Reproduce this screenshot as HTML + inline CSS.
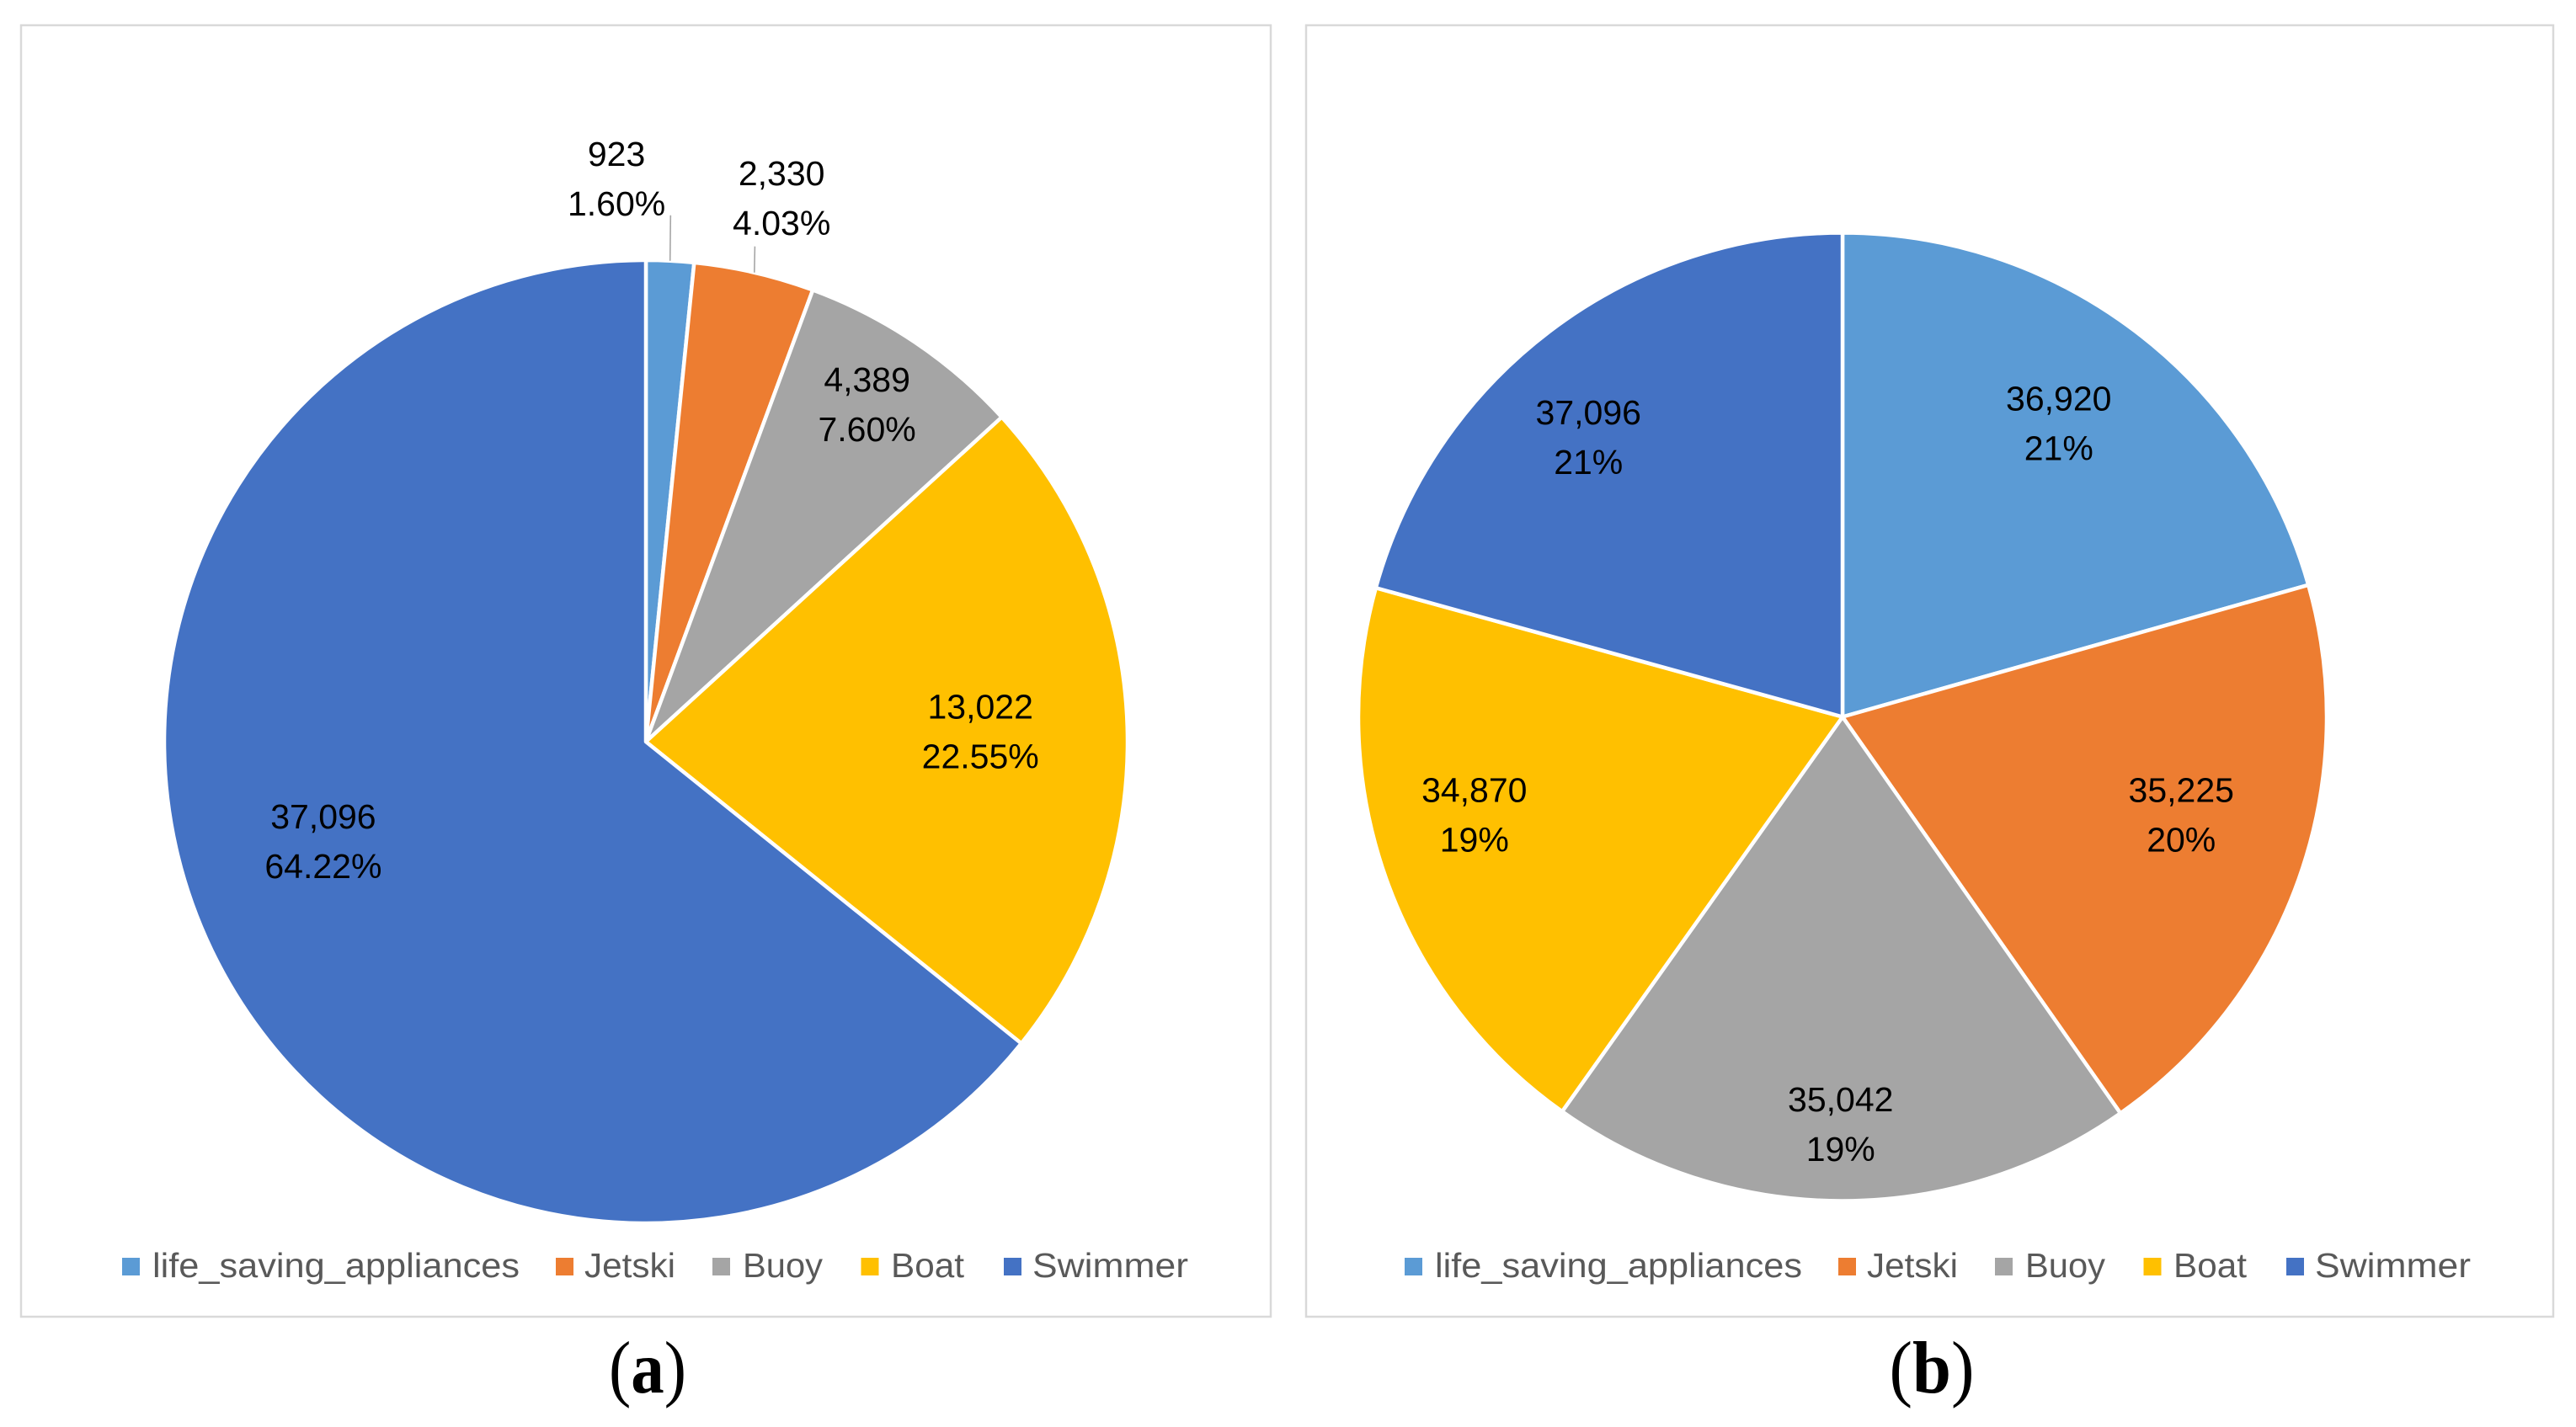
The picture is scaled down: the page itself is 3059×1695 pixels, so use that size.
<!DOCTYPE html>
<html lang="en">
<head>
<meta charset="utf-8">
<title>Class distribution pie charts</title>
<style>
html,body{margin:0;padding:0;background:#fff;}
svg{display:block;}
text{font-family:"Liberation Sans",sans-serif;}
.caption{font-family:"Liberation Serif",serif;font-size:88px;fill:#000;}
</style>
</head>
<body>
<svg id="figure" xmlns="http://www.w3.org/2000/svg" width="3059" height="1695" viewBox="0 0 3059 1695">
  <rect width="3059" height="1695" fill="#fff"/>
  <rect x="25" y="30" width="1484" height="1534" fill="#fff" stroke="#d9d9d9" stroke-width="2.5"/>
  <rect x="1551" y="30" width="1486" height="1534" fill="#fff" stroke="#d9d9d9" stroke-width="2.5" style="width:1481px"/>
  <g id="chart-a"></g>
  <g id="chart-b"></g>
  <text class="caption" x="769" y="1654" text-anchor="middle" textLength="92" lengthAdjust="spacingAndGlyphs">(<tspan font-weight="bold">a</tspan>)</text>
  <text class="caption" x="2294" y="1654" text-anchor="middle" textLength="101" lengthAdjust="spacingAndGlyphs">(<tspan font-weight="bold">b</tspan>)</text>
</svg>
<script>
const categories = ['life_saving_appliances', 'Jetski', 'Buoy', 'Boat', 'Swimmer'];
const valuesA = [923, 2330, 4389, 13022, 37096];
const valuesB = [36920, 35225, 35042, 34870, 37096];
const printedValuesA = ['923', '2,330', '4,389', '13,022', '37,096'];
const printedValuesB = ['36,920', '35,225', '35,042', '34,870', '37,096'];
const printedPercentsA = ['1.60%', '4.03%', '7.60%', '22.55%', '64.22%'];
const printedPercentsB = ['21%', '20%', '19%', '19%', '21%'];

const colors = ['#5B9BD5', '#ED7D31', '#A5A5A5', '#FFC000', '#4472C4'];
const NS = 'http://www.w3.org/2000/svg';

function el(tag, parent) {
  const node = document.createElementNS(NS, tag);
  parent.appendChild(node);
  return node;
}

function angleScale(values) {
  const total = values.reduce(function (a, b) { return a + b; }, 0);
  return function (v) { return v / total * Math.PI * 2; };
}

function polar(cx, cy, r, a) {
  return [cx + r * Math.sin(a), cy - r * Math.cos(a)];
}

function drawPie(opts) {
  const root = document.getElementById(opts.id);
  const toAngle = angleScale(opts.values);
  const cx = opts.cx, cy = opts.cy, R = opts.r;
  let start = 0;
  opts.values.forEach(function (v, i) {
    const sweep = toAngle(v);
    const end = start + sweep;
    const mid = start + sweep / 2;
    const p0 = polar(cx, cy, R, start);
    const p1 = polar(cx, cy, R, end);
    const large = sweep > Math.PI ? 1 : 0;

    const slice = el('path', root);
    
    
    slice.setAttribute('d', 'M' + cx + ' ' + cy + ' L' + p0[0] + ' ' + p0[1] + ' A' + R + ' ' + R + ' 0 ' + large + ' 1 ' + p1[0] + ' ' + p1[1] + ' Z');
    slice.setAttribute('fill', colors[i]);
    slice.setAttribute('stroke', '#fff');
    slice.setAttribute('stroke-width', '4.5');
    slice.setAttribute('stroke-linejoin', 'round');

    const anchor = polar(cx, cy, R * 0.7, mid);
    const nudge = opts.labelNudges[i];
    const lx = anchor[0] + nudge[0];
    const ly = anchor[1] + nudge[1];

    if (opts.leaderLengths[i] > 0) {
      const tip = polar(cx, cy, R, mid);
      const leader = el('line', root);
      
      
      leader.setAttribute('x1', tip[0]);
      leader.setAttribute('y1', tip[1]);
      leader.setAttribute('x2', tip[0] + 0.6);
      leader.setAttribute('y2', tip[1] - opts.leaderLengths[i]);
      leader.setAttribute('stroke', '#a6a6a6');
      leader.setAttribute('stroke-width', '1.6');
    }

    const valueLabel = el('text', root);
    
    
    valueLabel.setAttribute('x', lx);
    valueLabel.setAttribute('y', ly);
    valueLabel.setAttribute('text-anchor', 'middle');
    valueLabel.setAttribute('font-size', '41');
    valueLabel.setAttribute('fill', '#000');
    valueLabel.textContent = opts.printedValues[i];

    const percentLabel = el('text', root);
    
    
    percentLabel.setAttribute('x', lx);
    percentLabel.setAttribute('y', ly + 59);
    percentLabel.setAttribute('text-anchor', 'middle');
    percentLabel.setAttribute('font-size', '41');
    percentLabel.setAttribute('fill', '#000');
    percentLabel.textContent = opts.printedPercents[i];

    start = end;
  });

  const swatchLefts = [145, 660, 846, 1022.5, 1192];
  const textLefts = [181, 694, 882, 1058, 1226];
  const textWidths = [436, 108, 95, 87, 185];
  categories.forEach(function (name, i) {
    const swatch = el('rect', root);
    
    
    swatch.setAttribute('x', swatchLefts[i] + opts.legendShift);
    swatch.setAttribute('y', 1494);
    swatch.setAttribute('width', 21);
    swatch.setAttribute('height', 21);
    swatch.setAttribute('fill', colors[i]);

    const label = el('text', root);
    
    
    label.setAttribute('x', textLefts[i] + opts.legendShift);
    label.setAttribute('y', 1517);
    label.setAttribute('font-size', '41');
    label.setAttribute('fill', '#595959');
    label.setAttribute('textLength', textWidths[i]);
    label.setAttribute('lengthAdjust', 'spacingAndGlyphs');
    label.textContent = name;
  });
}

drawPie({
  id: 'chart-a', cx: 767, cy: 881, r: 572,
  values: valuesA, printedValues: printedValuesA, printedPercents: printedPercentsA,
  labelNudges: [[-55, -284], [71, -271], [39, -84], [-3, -15], [-22, -70]],
  leaderLengths: [54, 31, 0, 0, 0],
  legendShift: 0
});

drawPie({
  id: 'chart-b', cx: 2188, cy: 851.5, r: 575,
  values: valuesB, printedValues: printedValuesB, printedPercents: printedPercentsB,
  labelNudges: [[14, -43], [23, -34], [-1, 66], [-58, -34], [-58, -27]],
  leaderLengths: [0, 0, 0, 0, 0],
  legendShift: 1523
});
</script>
</body>
</html>
